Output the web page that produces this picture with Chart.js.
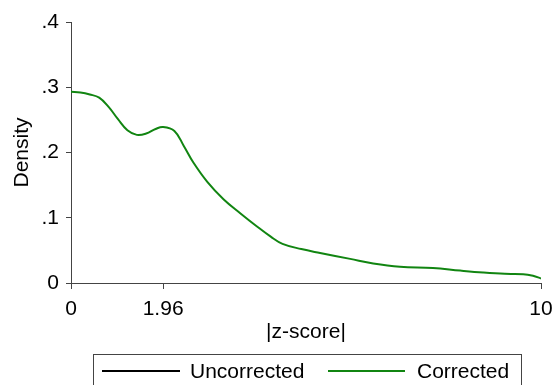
<!DOCTYPE html>
<html>
<head>
<meta charset="utf-8">
<script src="https://cdn.jsdelivr.net/npm/chart.js@4/dist/chart.umd.min.js"></script>
<style>
  html, body { margin: 0; padding: 0; background: #ffffff; }
  #wrap { width: 554px; height: 385px; }
</style>
</head>
<body>
<div id="wrap"><canvas id="c" width="554" height="385"></canvas></div>
<script>
// Kernel density of |z-score|
const zScore = [0, 0.2, 0.4, 0.6, 0.8, 1.0, 1.2, 1.4, 1.6, 1.8, 1.96, 2.2, 2.4, 2.6, 2.9, 3.25, 3.6, 3.95, 4.25, 4.5, 4.9, 5.3, 5.94, 6.43, 7.0, 7.7, 8.28, 8.77, 9.23, 9.62, 9.83, 10];
const densityCorrected = [0.293, 0.292, 0.289, 0.284, 0.270, 0.251, 0.234, 0.227, 0.229, 0.236, 0.239, 0.233, 0.210, 0.185, 0.155, 0.128, 0.107, 0.087, 0.071, 0.060, 0.052, 0.046, 0.037, 0.030, 0.025, 0.023, 0.019, 0.016, 0.014, 0.0135, 0.011, 0.007];
const densityUncorrected = [];

const seriesNames = ['Uncorrected', 'Corrected'];
const seriesColors = ['#000000', '#118511'];

const xTickValues = [0, 1.96, 10];
const xTickLabels = ['0', '1.96', '10'];
const yTickValues = [0, 0.1, 0.2, 0.3, 0.4];
const yTickLabels = ['0', '.1', '.2', '.3', '.4'];

const FONT = "'Liberation Sans', Arial, sans-serif";
const FONT_SIZE = 21;
const AXIS = '#444444';

const toPoints = (xs, ys) => ys.map((y, i) => ({ x: xs[i], y: y }));

// Boxed legend below the axis title
const boxLegend = {
  id: 'boxLegend',
  afterDraw(chart) {
    const ctx = chart.ctx;
    ctx.save();
    ctx.strokeStyle = AXIS;
    ctx.lineWidth = 1;
    ctx.strokeRect(93.5, 354.5, 428, 60);
    const items = [
      { x0: 102, x1: 180, tx: 190 },
      { x0: 328, x1: 405, tx: 417 }
    ];
    chart.data.datasets.forEach((ds, i) => {
      const it = items[i];
      ctx.strokeStyle = ds.borderColor;
      ctx.lineWidth = 2;
      ctx.beginPath();
      ctx.moveTo(it.x0, 371);
      ctx.lineTo(it.x1, 371);
      ctx.stroke();
      ctx.fillStyle = '#000000';
      ctx.font = FONT_SIZE + 'px ' + FONT;
      ctx.textBaseline = 'alphabetic';
      ctx.textAlign = 'left';
      ctx.fillText(ds.label, it.tx, 378);
    });
    ctx.restore();
  }
};

new Chart(document.getElementById('c'), {
  type: 'line',
  data: {
    datasets: [
      {
        label: seriesNames[0],
        data: toPoints(zScore, densityUncorrected),
        borderColor: seriesColors[0],
        borderWidth: 2,
        pointRadius: 0,
        fill: false
      },
      {
        label: seriesNames[1],
        data: toPoints(zScore, densityCorrected),
        borderColor: seriesColors[1],
        borderWidth: 2,
        pointRadius: 0,
        tension: 0.4,
        fill: false
      }
    ]
  },
  options: {
    responsive: false,
    animation: false,
    layout: { padding: { top: 22, right: 13, bottom: 0, left: 0 } },
    plugins: {
      legend: { display: false },
      tooltip: { enabled: false }
    },
    scales: {
      x: {
        type: 'linear',
        min: 0,
        max: 10,
        afterFit(scale) {
          scale.height = 102;
          scale.paddingLeft = 0;
          scale.paddingRight = 0;
        },
        afterBuildTicks(scale) { scale.ticks = xTickValues.map(v => ({ value: v })); },
        grid: { drawOnChartArea: false, drawTicks: true, tickLength: 6, color: AXIS },
        border: { display: true, color: AXIS, width: 1 },
        ticks: {
          autoSkip: false,
          maxRotation: 0,
          padding: 8,
          color: '#000000',
          font: { family: FONT, size: FONT_SIZE },
          callback(value, index) { return xTickLabels[index]; }
        },
        title: {
          display: true,
          text: '|z-score|',
          color: '#000000',
          font: { family: FONT, size: FONT_SIZE },
          padding: { top: 0, bottom: 40 }
        }
      },
      y: {
        type: 'linear',
        min: 0,
        max: 0.4,
        afterFit(scale) { scale.width = 71; },
        afterBuildTicks(scale) { scale.ticks = yTickValues.map(v => ({ value: v })); },
        grid: { drawOnChartArea: false, drawTicks: true, tickLength: 5, color: AXIS },
        border: { display: true, color: AXIS, width: 1 },
        ticks: {
          padding: 7,
          color: '#000000',
          font: { family: FONT, size: FONT_SIZE },
          callback(value, index) { return yTickLabels[index]; }
        },
        title: {
          display: true,
          text: 'Density',
          color: '#000000',
          font: { family: FONT, size: FONT_SIZE },
          padding: { top: 10, bottom: 0 }
        }
      }
    }
  },
  plugins: [boxLegend]
});
</script>
</body>
</html>
